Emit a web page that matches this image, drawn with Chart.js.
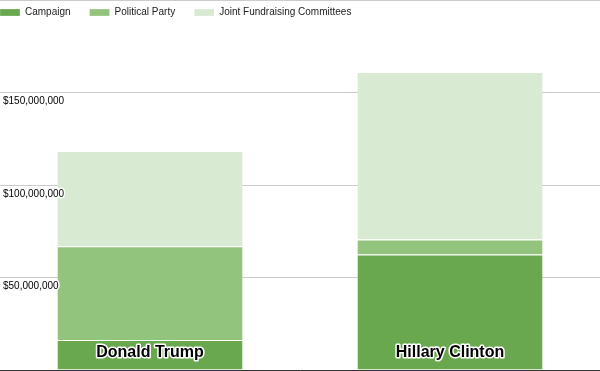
<!DOCTYPE html>
<html>
<head>
<meta charset="utf-8">
<script src="https://cdn.jsdelivr.net/npm/chart.js@4/dist/chart.umd.min.js"></script>
<style>
  html, body { margin: 0; padding: 0; background: #fff; }
  #wrap { width: 600px; height: 371px; }
</style>
</head>
<body>
<div id="wrap"><canvas id="chart"></canvas></div>
<script>
const candidates = ['Donald Trump', 'Hillary Clinton'];
const campaign = [16200000, 62500000];
const politicalParty = [50700000, 8100000];
const jointCommittees = [51500000, 90500000];
const yTicks = [50000000, 100000000, 150000000];

// legend sits inside the plot, laid out in one row at top left
const legendInPlot = {
  id: 'legendInPlot',
  beforeLayout(chart) {
    if (chart.legend) chart.legend.isHorizontal = () => true;
  },
  afterLayout(chart) {
    const lg = chart.legend;
    if (!lg) return;
    const pad = lg.options.labels.padding;
    lg.left = -pad;
    lg.top = chart.chartArea.top + 7.5 - pad;
  }
};

// draws candidate names inside the bars, bold with a white outline
const barNames = {
  id: 'barNames',
  afterDatasetsDraw(chart) {
    const ctx = chart.ctx;
    const x = chart.scales.x;
    ctx.save();
    ctx.font = 'bold 16px "Liberation Sans", Arial, sans-serif';
    ctx.textAlign = 'center';
    ctx.textBaseline = 'alphabetic';
    ctx.lineJoin = 'round';
    candidates.forEach((name, i) => {
      const px = x.getPixelForValue(i);
      const py = chart.chartArea.bottom - 13;
      ctx.strokeStyle = '#fff';
      ctx.lineWidth = 3;
      ctx.strokeText(name, px, py);
      ctx.fillStyle = '#000';
      ctx.fillText(name, px, py);
    });
    ctx.restore();
  }
};

function noPadding(scale) {
  scale.paddingTop = 0;
  scale.paddingBottom = 0;
  scale.paddingLeft = 0;
  scale.paddingRight = 0;
}

const barStyle = {
  borderColor: '#fff',
  borderWidth: { top: 1, left: 0, right: 0, bottom: 0 },
  borderSkipped: false,
  categoryPercentage: 1,
  barPercentage: 0.617
};

new Chart(document.getElementById('chart'), {
  type: 'bar',
  data: {
    labels: candidates,
    datasets: [
      Object.assign({ label: 'Campaign', data: campaign, backgroundColor: '#6aa84f' }, barStyle),
      Object.assign({ label: 'Political Party', data: politicalParty, backgroundColor: '#93c47d' }, barStyle),
      Object.assign({ label: 'Joint Fundraising Committees', data: jointCommittees, backgroundColor: '#d9ead3' }, barStyle)
    ]
  },
  options: {
    responsive: true,
    maintainAspectRatio: false,
    animation: false,
    layout: { padding: 0, autoPadding: false },
    plugins: {
      tooltip: { enabled: false },
      legend: {
        position: 'chartArea',
        fullSize: false,
        align: 'start',
        labels: {
          boxWidth: 20,
          boxHeight: 7,
          padding: 19,
          color: '#222',
          font: { family: '"Liberation Sans", Arial, sans-serif', size: 10 }
        }
      }
    },
    scales: {
      x: {
        stacked: true,
        grid: { display: false },
        ticks: { display: false, padding: 0 },
        border: { display: true, color: '#333', width: 1 },
        afterFit(scale) {
          noPadding(scale);
          scale.height = 1;
        }
      },
      y: {
        stacked: true,
        min: 0,
        max: 200000000,
        afterBuildTicks(scale) {
          scale.ticks = [0].concat(yTicks, [200000000]).map(v => ({ value: v }));
        },
        afterFit(scale) {
          noPadding(scale);
          scale.width = 0;
        },
        grid: { color: '#ccc', drawTicks: false },
        border: { display: false },
        ticks: {
          mirror: true,
          z: 1,
          padding: 3,
          labelOffset: 9,
          color: '#000',
          textStrokeColor: '#fff',
          textStrokeWidth: 3,
          font: { family: '"Liberation Sans", Arial, sans-serif', size: 10 },
          callback(value) {
            if (!yTicks.includes(value)) return '';
            return '$' + value.toLocaleString('en-US');
          }
        }
      }
    }
  },
  plugins: [legendInPlot, barNames]
});
</script>
</body>
</html>
